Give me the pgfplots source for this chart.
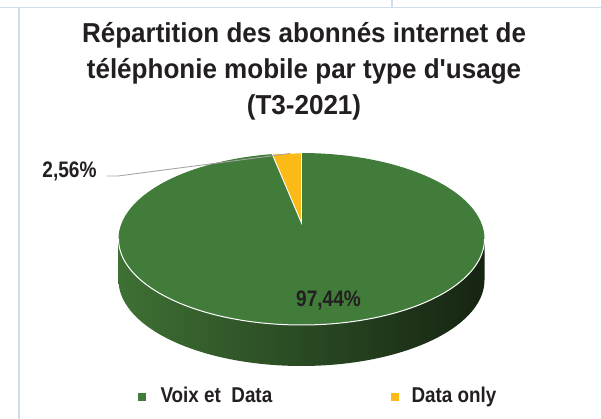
\documentclass[border=0pt]{standalone}
\usepackage{pgfplots}
\pgfplotsset{compat=1.18}
\usepackage{fontspec}
\setmainfont{Liberation Sans}
\newfontfamily\titlefont{Liberation Sans Bold}[FakeStretch=0.95]
\newfontfamily\lblfont{Liberation Sans Bold}[FakeStretch=0.88]
\newfontfamily\smlfont{Liberation Sans Bold}[FakeStretch=0.85]
\definecolor{pgreen}{RGB}{66,124,59}
\definecolor{pyellow}{RGB}{251,186,22}
\definecolor{sideL}{RGB}{62,112,52}
\definecolor{sideR}{RGB}{22,36,18}
\definecolor{txt}{RGB}{35,31,32}
\definecolor{framec}{RGB}{208,221,235}
\definecolor{leader}{RGB}{165,165,165}
% data (percent)
\def\vVoix{97.44}
\def\vData{2.56}
\pgfmathsetmacro\aEnd{90+\vData*3.6}
\begin{document}
\begin{tikzpicture}
\begin{axis}[scale only axis, width=601bp, height=419bp,
  xmin=0, xmax=601, ymin=0, ymax=419, y dir=reverse,
  hide axis, clip=false]
% frame lines
\addplot[framec, line width=1.3bp] coordinates {(0,7.5) (601,7.5)};
\addplot[framec, line width=1.3bp] coordinates {(392,0) (392,7.5)};
\addplot[framec, line width=1.3bp] coordinates {(19,8) (19,419)};
% side of the pie
\addplot[draw=none, left color=sideL, right color=sideR, domain=180:360, samples=90]
  ({301.5+183*cos(x)}, {239-86*sin(x)+41}) -- (axis cs:484.5,239) -- (axis cs:118.5,239) -- cycle;
% top face (Voix et Data)
\addplot[fill=pgreen, draw=none, domain=0:360, samples=150]
  ({301.5+183*cos(x)}, {239-86*sin(x)}) -- cycle;
\addplot[white, line width=1bp, domain=180:360, samples=90]
  ({301.5+183*cos(x)}, {239-86*sin(x)});
% Data only wedge
\addplot[fill=pyellow, draw=white, line width=0.9bp, domain=90:\aEnd, samples=10]
  ({301.5+183*cos(x)}, {239-86*sin(x)}) -- (axis cs:301.5,223) -- cycle;
% leader line
\addplot[leader, line width=0.9bp] coordinates {(107,176) (118,176) (290,153.5)};
% labels
\node[anchor=base east, text=txt, font=\smlfont\fontsize{22.5}{26}\selectfont] at (axis cs:100,177) {2,56\%};
\node[anchor=base, text=txt, font=\smlfont\fontsize{22.5}{26}\selectfont] at (axis cs:328.5,306.5) {97,44\%};
% title
\node[anchor=base, text=txt, font=\titlefont\fontsize{27.5}{30}\selectfont] at (axis cs:304,43) {Répartition des abonnés internet de};
\node[anchor=base, text=txt, font=\titlefont\fontsize{27.5}{30}\selectfont] at (axis cs:304,79) {téléphonie mobile par type d'usage};
\node[anchor=base, text=txt, font=\titlefont\fontsize{27.5}{30}\selectfont] at (axis cs:304,114) {(T3-2021)};
% legend
\addplot[only marks, mark=square*, mark size=3.5bp, color=pgreen] coordinates {(141.5,396.5)};
\addplot[only marks, mark=square*, mark size=3.5bp, color=pyellow] coordinates {(395,396.5)};
\node[anchor=base west, text=txt, font=\lblfont\fontsize{21.5}{24}\selectfont] at (axis cs:157,402.5) {Voix et\ \ Data};
\node[anchor=base west, text=txt, font=\lblfont\fontsize{21.5}{24}\selectfont] at (axis cs:408,402.5) {Data only};
\end{axis}
\pgfresetboundingbox
\path (0,0) rectangle (601bp,419bp);
\end{tikzpicture}
\end{document}
